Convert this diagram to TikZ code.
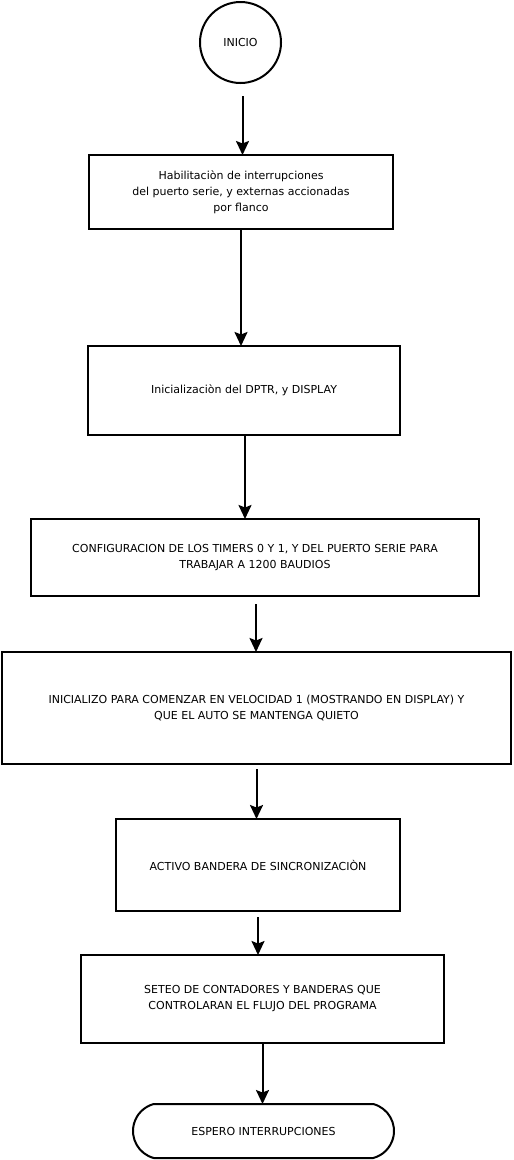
\documentclass[tikz,border=0pt]{standalone}
\usepackage{fontspec}
\setmainfont{DejaVu Sans}
\usetikzlibrary{arrows.meta,shapes.misc}
\begin{document}
\begin{tikzpicture}[x=1pt,y=-1pt,
 box/.style={draw,line width=2pt,inner sep=0pt,outer sep=0pt,align=center,font=\fontsize{11}{16}\selectfont},
 arr/.style={line width=2pt,-{Stealth[length=14pt,width=13pt,inset=2.5pt]}}]
\useasboundingbox (0,0) rectangle (514,1160);
\node[box,circle,minimum size=81pt] (inicio) at (240.5,42.5) {INICIO};
\node[box,minimum width=304pt,minimum height=74pt] (b1) at (241,192) {Habilitaciòn de interrupciones\\del puerto serie, y externas accionadas\\por flanco};
\node[box,minimum width=312pt,minimum height=89pt] (b2) at (244,390.5) {Inicializaciòn del DPTR, y DISPLAY};
\node[box,minimum width=448pt,minimum height=77pt] (b3) at (255,557.5) {CONFIGURACION DE LOS TIMERS 0 Y 1, Y DEL PUERTO SERIE PARA\\TRABAJAR A 1200 BAUDIOS};
\node[box,minimum width=509pt,minimum height=112pt] (b4) at (256.5,708) {INICIALIZO PARA COMENZAR EN VELOCIDAD 1 (MOSTRANDO EN DISPLAY) Y\\QUE EL AUTO SE MANTENGA QUIETO};
\node[box,minimum width=284pt,minimum height=92pt] (b5) at (258,865) {ACTIVO BANDERA DE SINCRONIZACIÒN};
\node[box,minimum width=363pt,minimum height=88pt] (b6) at (262.5,999) {SETEO DE CONTADORES Y BANDERAS QUE\\CONTROLARAN EL FLUJO DEL PROGRAMA};
\node[box,rounded rectangle,rounded rectangle arc length=150,minimum width=261pt,minimum height=54pt] (fin) at (263.5,1131) {ESPERO INTERRUPCIONES};
\draw[arr,shorten <=13pt] ([xshift=2pt]inicio.south) -- ([xshift=2pt]inicio.south |- b1.north);
\draw[arr] (b1.south) -- (b1.south |- b2.north);
\draw[arr] ([xshift=1pt]b2.south) -- ([xshift=1pt]b2.south |- b3.north);
\draw[arr,shorten <=8pt] ([xshift=1pt]b3.south) -- ([xshift=1pt]b3.south |- b4.north);
\draw[arr,shorten <=5pt] (b4.south) -- (b4.south |- b5.north);
\draw[arr,shorten <=6pt] (b5.south) -- (b5.south |- b6.north);
\draw[arr] (b6.south) -- (b6.south |- fin.north);
\end{tikzpicture}
\end{document}
